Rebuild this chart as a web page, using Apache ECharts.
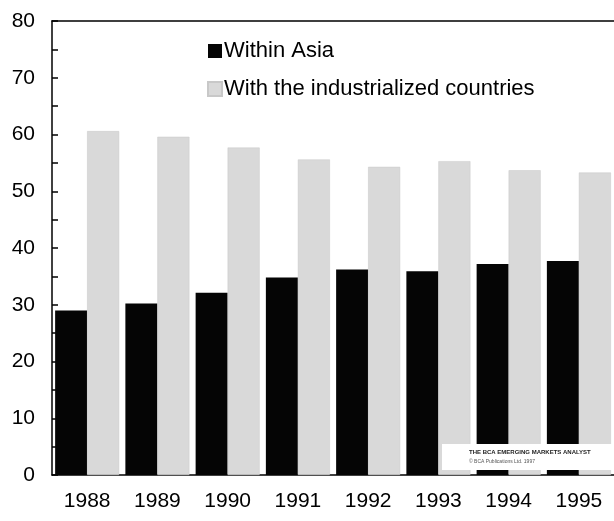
<!DOCTYPE html>
<html><head><meta charset="utf-8">
<script src="https://cdn.jsdelivr.net/npm/echarts@6/dist/echarts.min.js"></script>
<style>html,body{margin:0;padding:0;background:#fff}#c{width:614px;height:521px}</style>
</head><body><div id="c"></div>
<script>
var years = ['1988','1989','1990','1991','1992','1993','1994','1995'];
var withinAsia = [29.0, 30.2, 32.1, 34.8, 36.2, 35.9, 37.2, 37.7];
var withIndustrialized = [60.6, 59.6, 57.7, 55.6, 54.3, 55.3, 53.7, 53.3];
var seriesNames = ['Within Asia', 'With the industrialized countries'];

var font = 'Liberation Sans, Arial, sans-serif';
var chart = echarts.init(document.getElementById('c'));
chart.setOption({
  animation: false,
  backgroundColor: '#fff',
  textStyle: {fontFamily: font},
  grid: {left: 52, right: 0, top: 21, bottom: 46, containLabel: false},
  legend: {
    orient: 'vertical', left: 202, top: 35, itemGap: 16,
    itemWidth: 14, itemHeight: 14, icon: 'rect',
    textStyle: {fontSize: 22, color: '#000', fontFamily: font, padding: [0,0,0,-3]},
    data: seriesNames
  },
  xAxis: [{
    type: 'category', data: years,
    axisLine: {lineStyle: {color: '#000', width: 1.5}},
    axisTick: {show: false},
    axisLabel: {fontSize: 21, color: '#000', margin: 16, fontFamily: font}
  }, {
    type: 'category', data: years, position: 'top',
    axisLine: {show: true, lineStyle: {color: '#000', width: 1.5}},
    axisTick: {show: false}, axisLabel: {show: false}
  }],
  yAxis: {
    type: 'value', min: 0, max: 80, interval: 5,
    axisLine: {show: true, lineStyle: {color: '#000', width: 1.5}},
    axisTick: {show: true, inside: true, length: 6, lineStyle: {color: '#000', width: 1.5}},
    splitLine: {show: false},
    axisLabel: {fontSize: 21, color: '#000', margin: 17, fontFamily: font,
      formatter: function (v) { return v % 10 === 0 ? String(v) : ''; }}
  },
  series: [{
    name: seriesNames[0], type: 'bar', data: withinAsia,
    barWidth: 32, barGap: '0%',
    itemStyle: {color: '#050505'}
  }, {
    name: seriesNames[1], type: 'bar', data: withIndustrialized,
    barWidth: 32,
    itemStyle: {color: '#d9d9d9', borderColor: '#c8c8c8', borderWidth: 0.5}
  }],
  graphic: [{
    type: 'rect', left: 442, top: 444, shape: {width: 172, height: 26},
    style: {fill: '#fff'}, z: 100
  }, {
    type: 'text', left: 469, top: 449, z: 101,
    style: {text: 'THE BCA EMERGING MARKETS ANALYST', fontSize: 6, fontWeight: 'bold', fill: '#222', fontFamily: font}
  }, {
    type: 'text', left: 469, top: 459, z: 101,
    style: {text: '\u00A9 BCA Publications Ltd. 1997', fontSize: 5, fill: '#555', fontFamily: font}
  }]
});
</script></body></html>
